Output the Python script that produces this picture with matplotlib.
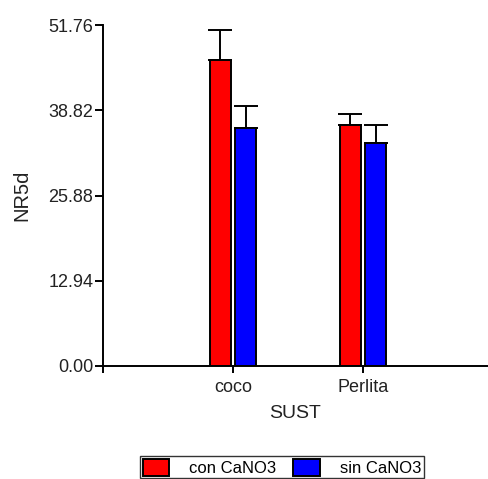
import matplotlib.pyplot as plt
import numpy as np

plt.rcParams['font.family'] = ['Liberation Sans', 'DejaVu Sans']

categories = ['coco', 'Perlita']
series = ['con CaNO3', 'sin CaNO3']
con_vals = [46.45, 36.55]
con_err = [4.5, 1.67]
sin_vals = [36.1, 33.9]
sin_err = [3.4, 2.64]
colors = ['#ff0000', '#0000ff']
yticks = [0.00, 12.94, 25.88, 38.82, 51.76]

fig = plt.figure(figsize=(4.88, 4.79), dpi=100)
ax = fig.add_axes([103 / 488, 1 - 366 / 479, 385 / 488, 341 / 479])

x = np.arange(1, len(categories) + 1)
w = 0.16
off = 0.098
for vals, errs, col, lab, sgn in [(con_vals, con_err, colors[0], series[0], -1),
                                  (sin_vals, sin_err, colors[1], series[1], 1)]:
    pos = x + sgn * off
    ax.bar(pos, vals, width=w, color=col, edgecolor='black', linewidth=1.4,
           label=lab, zorder=2)
    ax.errorbar(pos, vals, yerr=[np.zeros(len(vals)), errs], fmt='none',
                ecolor='black', elinewidth=1.4, capsize=8.3, capthick=1.4,
                zorder=1)

ax.set_xlim(0, 2.96)
ax.set_ylim(0, 51.76)
ax.set_xticks(x)
ax.set_xticklabels(categories)
ax.set_xticks([0], minor=True)
ax.set_yticks(yticks)
ax.set_yticklabels(['%.2f' % v for v in yticks])
ax.spines['top'].set_visible(False)
ax.spines['right'].set_visible(False)
ax.spines['left'].set_linewidth(1.4)
ax.spines['bottom'].set_linewidth(1.4)
ax.tick_params(axis='y', length=6, width=1.4, labelsize=13, pad=1,
               labelcolor='#222222')
ax.tick_params(axis='x', which='both', length=5, width=1.4, labelsize=13,
               pad=4, labelcolor='#222222')
ax.set_xlabel('SUST', fontsize=14, labelpad=7, color='#222222')
ax.set_ylabel('NR5d', fontsize=14.5, labelpad=12, color='#222222')

leg = fig.legend(loc='upper left', bbox_to_anchor=(140 / 488, 1 - 456 / 479),
                 ncol=2, fontsize=12, frameon=True, fancybox=False,
                 edgecolor='black', handlelength=1.6, handleheight=1.2,
                 handletextpad=1.2, columnspacing=1.0, borderpad=0.15,
                 borderaxespad=0)
leg.get_frame().set_linewidth(1.0)

plt.savefig('out.png', dpi=100)
